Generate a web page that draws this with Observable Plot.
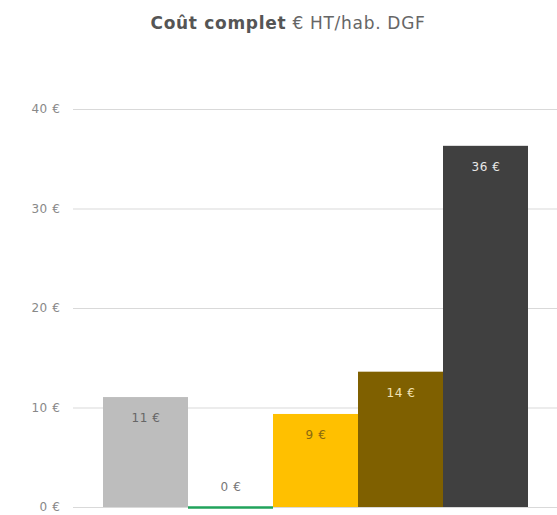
<!DOCTYPE html>
<html><head><meta charset="utf-8">
<script src="https://cdn.jsdelivr.net/npm/d3@7"></script>
<script src="https://cdn.jsdelivr.net/npm/@observablehq/plot@0.6"></script>
<style>
body{margin:0;background:#fff;font-family:"DejaVu Sans",sans-serif;}
#title{height:50px;box-sizing:border-box;padding-top:13px;text-align:center;padding-left:19px;font-size:17px;letter-spacing:0.7px;color:#666;}
#title b{color:#555;}
svg text{letter-spacing:0.6px;}
</style></head>
<body>
<div id="title"><b>Coût complet</b> € HT/hab. DGF</div>
<div id="chart"></div>
<script>
const categories = ["Catégorie 1","Catégorie 2","Catégorie 3","Catégorie 4","Catégorie 5"];
const values = [11.05, 0, 9.35, 13.6, 36.3];
const labels = ["11 €","0 €","9 €","14 €","36 €"];
const colors = ["#bdbdbd","#21a35b","#ffc000","#7f6000","#404040"];
const labelColors = ["#666666","#777777","#8a6a10","#f3e3b5","#e8e8e8"];
const yTicks = [0,10,20,30,40];

const data = categories.map((c,i)=>({cat:c, value:values[i], label:labels[i], color:colors[i], lc:labelColors[i]}));
const inside = data.filter(d=>d.value>0);
const zero = data.filter(d=>d.value===0);

const chart = Plot.plot({
  width:557, height:465,
  marginLeft:73, marginRight:0, marginTop:59, marginBottom:8,
  style:{fontFamily:"DejaVu Sans, sans-serif", fontSize:"12px", color:"#888"},
  x:{domain:categories, paddingInner:0, paddingOuter:0.347, axis:null},
  y:{domain:[0,40], ticks:yTicks, tickSize:0, tickPadding:13, tickFormat:d=>d+" €", label:null},
  marks:[
    Plot.gridY(yTicks,{stroke:"#d9d9d9", strokeOpacity:1, strokeWidth:1}),
    Plot.barY(data,{x:"cat", y:"value", fill:"color"}),
    Plot.tickY(zero,{x:"cat", y:"value", stroke:"color", strokeWidth:2.5}),
    Plot.text(inside,{x:"cat", y:"value", text:"label", fill:"lc", dy:21, fontSize:12}),
    Plot.text(zero,{x:"cat", y:"value", text:"label", fill:"lc", dy:-20, fontSize:12})
  ]
});
document.getElementById("chart").append(chart);
</script>
</body></html>
